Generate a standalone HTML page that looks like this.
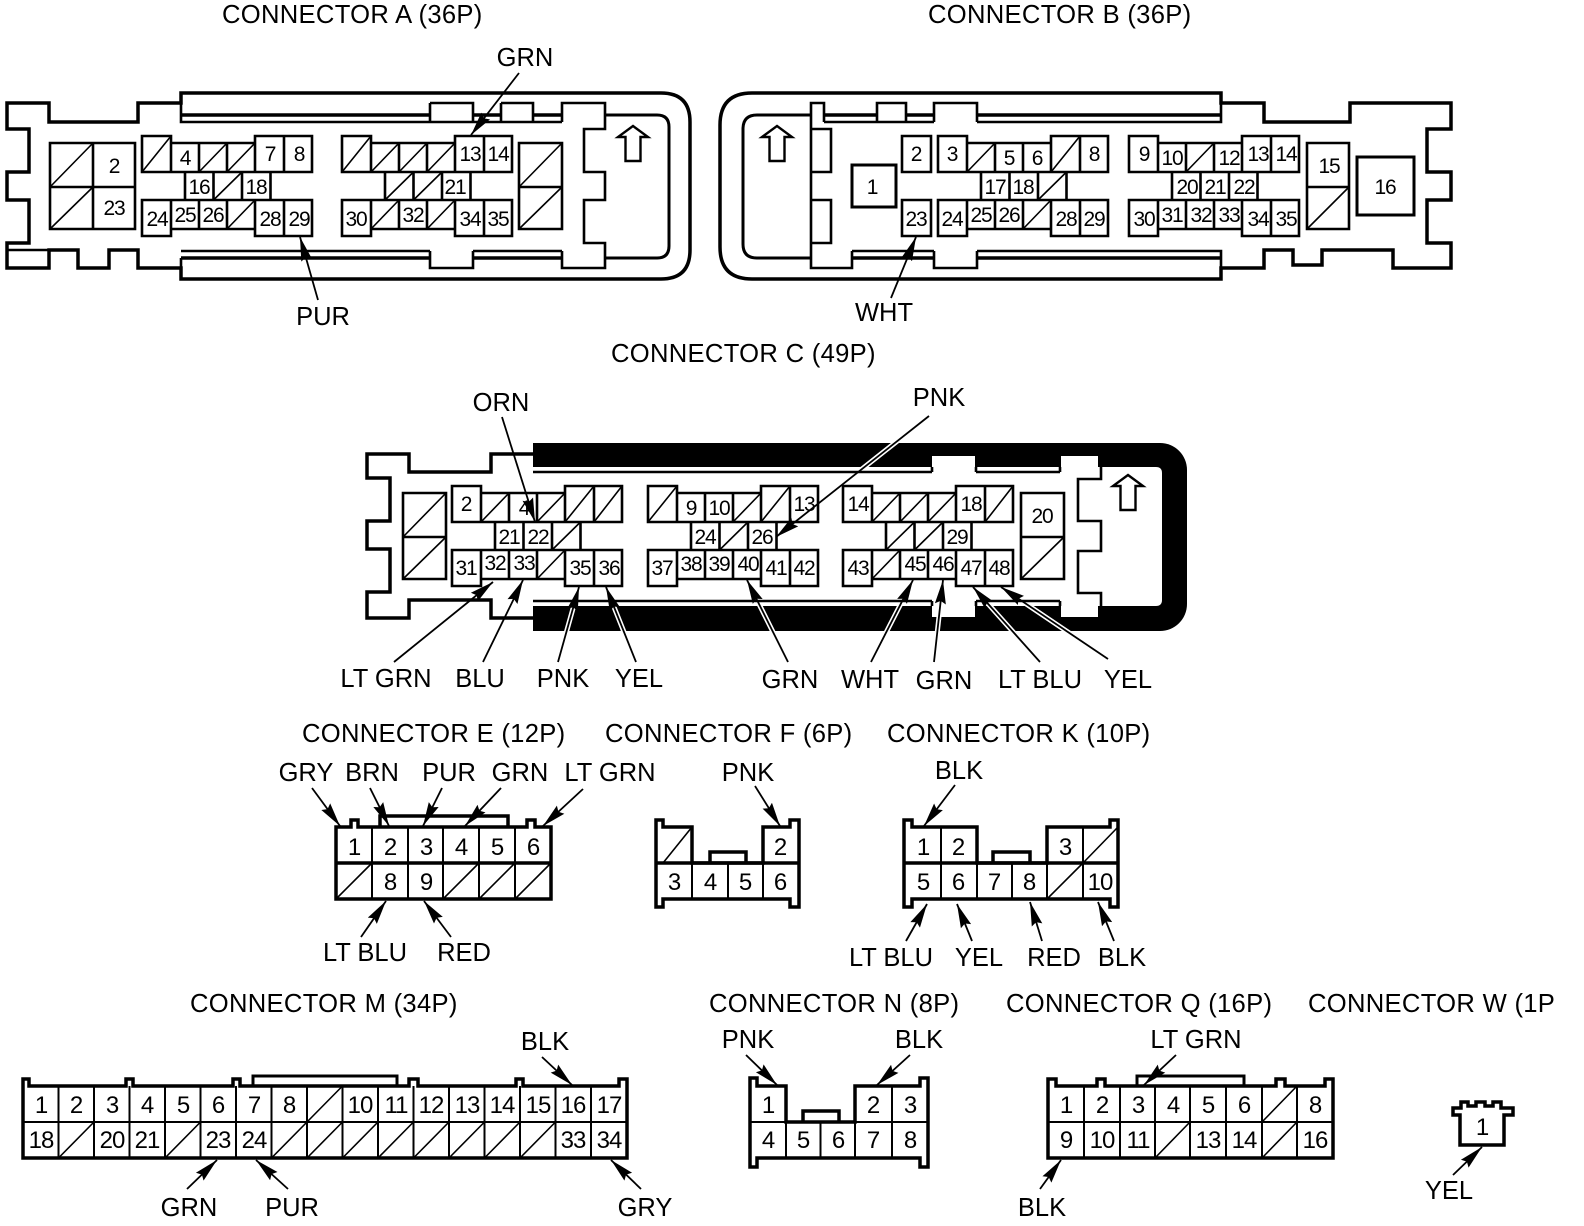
<!DOCTYPE html>
<html><head><meta charset="utf-8"><style>
html,body{margin:0;padding:0;background:#fff}
svg{display:block}
text{font-family:"Liberation Sans",sans-serif;fill:#000}
.l{font-size:25.5px;text-anchor:middle}
.h{font-size:25.6px;letter-spacing:.3px}
.n{font-size:21px;text-anchor:middle;letter-spacing:-1.2px}
.m{font-size:24px;text-anchor:middle;letter-spacing:-1px}
.o{fill:none;stroke:#000;stroke-width:3.5}
.c{fill:none;stroke:#000;stroke-width:2}
.t{fill:none;stroke:#000;stroke-width:1.6}
.a{fill:none;stroke:#000;stroke-width:1.8;marker-end:url(#ah)}
.w{fill:none;stroke:#fff;stroke-width:5}
.g{fill:none;stroke:#000;stroke-width:2.6}
</style></head><body>
<svg width="1584" height="1226" viewBox="0 0 1584 1226" xmlns="http://www.w3.org/2000/svg">
<defs>
<marker id="ah" markerUnits="userSpaceOnUse" markerWidth="26" markerHeight="14" refX="24" refY="7" orient="auto"><path d="M0 1.500L24 7L0 12.500L3 7Z" fill="#000"/></marker>
<g id="gr"><path class="g" d="M0 0H29V7H113V0H170V36H0ZM29 7V36M57 7V36M85 7V36M113 7V36M142 0V36M43 36V64H128.500V36M71.500 36V64M100 36V64M0 64H170V100H113V93H29V100H0ZM29 64V93M57 64V93M85 64V93M113 64V93M142 64V100"/></g>
<g id="ua"><path d="M0 0L15 11H7.500V35H-7.500V11H-15Z" fill="#fff" stroke="#000" stroke-width="2.400"/></g>
</defs>
<rect width="1584" height="1226" fill="#fff"/>

<!-- CONNECTOR A -->
<path class="o" d="M7 103H49V122H138V103H181V93H661Q690 93 690 122V250Q690 279 661 279H181V268H138V250H109V268H78V250H49V268H7V243H29V200H7V172H29V129H7Z"/>
<path class="g" d="M7 250H49M181 93V122H562M181 251H430M473 251H562M181 258V279"/>
<path class="o" d="M181 115H430M473 115H501M533 115H562M181 258H430M473 258H562"/>
<path class="g" d="M430 103H473V122M430 103V122M501 103H533V122M501 103V122M430 251V268H473V251"/>
<path class="g" d="M562 122V103H605V129H584V172H605V200H584V243H605V268H562V251"/>
<path class="o" d="M605 115H657Q669 115 669 127V246Q669 258 657 258H605" style="stroke-width:3"/>
<use href="#ua" x="633" y="126"/>
<path class="g" d="M50 143H135V229H50ZM93 143V229M50 187H135M519 143H562V229H519ZM519 187H562"/>
<path class="t" d="M50 187L93 143M50 229L93 187M519 187L562 143M519 229L562 187"/>
<use href="#gr" x="142" y="136"/>
<g transform="translate(142,136)"><path class="t" d="M0 36L29 0M57 36L85 7M85 36L113 7M71.500 64L100 36M85 93L113 64"/></g>
<use href="#gr" x="342" y="136"/>
<g transform="translate(342,136)"><path class="t" d="M0 36L29 0M29 36L57 7M57 36L85 7M85 36L113 7M43 64L71.500 36M71.500 64L100 36M29 93L57 64M85 93L113 64"/></g>
<text class="n" x="114" y="173">2</text><text class="n" x="114" y="215">23</text>
<text class="n" x="185" y="165">4</text><text class="n" x="270" y="161">7</text><text class="n" x="299" y="161">8</text>
<text class="n" x="199" y="194">16</text><text class="n" x="256" y="194">18</text>
<text class="n" x="157" y="226">24</text><text class="n" x="185" y="222">25</text><text class="n" x="213" y="222">26</text><text class="n" x="270" y="226">28</text><text class="n" x="299" y="226">29</text>
<text class="n" x="470" y="161">13</text><text class="n" x="498" y="161">14</text><text class="n" x="455" y="194">21</text>
<text class="n" x="356" y="226">30</text><text class="n" x="413" y="222">32</text><text class="n" x="470" y="226">34</text><text class="n" x="498" y="226">35</text>
<text class="h" x="222" y="23">CONNECTOR A (36P)</text>
<text class="l" x="525" y="66">GRN</text>
<text class="l" x="323" y="325">PUR</text>
<path class="a" d="M519 73L471 135"/>
<path class="a" d="M318 300L300 237"/>

<!-- CONNECTOR B -->
<path class="o" d="M1221 103V93H752Q720 93 720 125V247Q720 279 752 279H1221V268H1264V250H1293V265H1322V250H1393V268H1451V243H1427V200H1451V172H1427V129H1451V103H1350V122H1264V103Z"/>
<path class="g" d="M824 122H934M977 122H1221V93M852 251H934M977 251H1221V279"/>
<path class="o" d="M824 115H877M906 115H934M977 115H1221M852 258H934M977 258H1221"/>
<path class="o" d="M811 115H757Q743 115 743 129V244Q743 258 757 258H811" style="stroke-width:3"/>
<path class="g" d="M824 122V103H811V268H852V251M811 129H831V172H811M811 200H831V243H811M877 122V103H906V122M934 122V103H977V122M934 251V268H977V251"/>
<use href="#ua" x="777" y="126"/>
<path class="o" d="M852 165H896V207H852Z" style="stroke-width:3"/>
<path class="g" d="M902 136H931V172H902ZM902 200H931V236H902ZM1307 143H1349V229H1307ZM1307 187H1349"/>
<path class="o" d="M1357 157H1414V215H1357Z" style="stroke-width:3"/>
<path class="t" d="M1307 229L1349 187"/>
<use href="#gr" x="938" y="136"/>
<g transform="translate(938,136)"><path class="t" d="M29 36L57 7M113 36L142 0M100 64L128.500 36M85 93L113 64"/></g>
<use href="#gr" x="1129" y="136"/>
<g transform="translate(1129,136)"><path class="t" d="M57 36L85 7"/></g>
<text class="n" x="872" y="194">1</text><text class="n" x="916" y="161">2</text><text class="n" x="916" y="226">23</text>
<text class="n" x="952" y="161">3</text><text class="n" x="1009" y="165">5</text><text class="n" x="1037" y="165">6</text><text class="n" x="1094" y="161">8</text>
<text class="n" x="995" y="194">17</text><text class="n" x="1023" y="194">18</text>
<text class="n" x="952" y="226">24</text><text class="n" x="981" y="222">25</text><text class="n" x="1009" y="222">26</text><text class="n" x="1066" y="226">28</text><text class="n" x="1094" y="226">29</text>
<text class="n" x="1144" y="161">9</text><text class="n" x="1172" y="165">10</text><text class="n" x="1229" y="165">12</text><text class="n" x="1258" y="161">13</text><text class="n" x="1286" y="161">14</text>
<text class="n" x="1187" y="194">20</text><text class="n" x="1215" y="194">21</text><text class="n" x="1244" y="194">22</text>
<text class="n" x="1144" y="226">30</text><text class="n" x="1172" y="222">31</text><text class="n" x="1201" y="222">32</text><text class="n" x="1229" y="222">33</text><text class="n" x="1258" y="226">34</text><text class="n" x="1286" y="226">35</text>
<text class="n" x="1329" y="173">15</text><text class="n" x="1385" y="194">16</text>
<text class="h" x="928" y="23">CONNECTOR B (36P)</text>
<text class="l" x="884" y="321">WHT</text>
<path class="a" d="M891 298L916 237"/>

<!-- CONNECTOR C -->
<text class="h" x="611" y="362">CONNECTOR C (49P)</text>
<path d="M533 443H1160A27 27 0 0 1 1187 470V604A27 27 0 0 1 1160 631H533Z" fill="#000"/>
<path d="M533 467H932V456H975V467H1061V456H1098V467H1101H1156Q1162 467 1162 473V600Q1162 606 1156 606H1098V617H1061V606H975V617H932V606H533Z" fill="#fff"/>
<path class="w" d="M558 662L579 587M636 662L606 587M788 662L747 580M871 662L913 580M934 662L943 580M1040 662L973 587M1108 659L1001 587M929 416L776 537"/>
<path class="o" d="M533 454H491V472H409V454H367V478H390V521H367V549H390V592H367V618H409V600H491V618H533"/>
<path class="g" d="M533 472H932M976 472H1060M533 601H932M976 601H1060M932 467V472M976 467V472M1060 467V472M932 601V606M976 601V606M1060 601V606"/>
<path class="g" d="M1101 467V479H1078V521H1101V551H1078V593H1101V606"/>
<use href="#ua" x="1128" y="475"/>
<path class="g" d="M403 493H446V579H403ZM403 537H446M1021 493H1064V579H1021ZM1021 537H1064"/>
<path class="t" d="M403 537L446 493M403 579L446 537M1021 579L1064 537"/>
<use href="#gr" x="452" y="486"/>
<g transform="translate(452,486)"><path class="t" d="M29 36L57 7M85 36L113 7M113 36L142 0M142 36L170 0M100 64L128.500 36M85 93L113 64"/></g>
<use href="#gr" x="648" y="486"/>
<g transform="translate(648,486)"><path class="t" d="M0 36L29 0M85 36L113 7M113 36L142 0M71.500 64L100 36"/></g>
<use href="#gr" x="843" y="486"/>
<g transform="translate(843,486)"><path class="t" d="M29 36L57 7M57 36L85 7M85 36L113 7M142 36L170 0M43 64L71.500 36M71.500 64L100 36M29 93L57 64"/></g>
<text class="n" x="466" y="511">2</text><text class="n" x="524" y="515">4</text>
<text class="n" x="509" y="544">21</text><text class="n" x="538" y="544">22</text>
<text class="n" x="466" y="575">31</text><text class="n" x="495" y="570">32</text><text class="n" x="524" y="570">33</text><text class="n" x="580" y="575">35</text><text class="n" x="609" y="575">36</text>
<text class="n" x="691" y="515">9</text><text class="n" x="719" y="515">10</text><text class="n" x="804" y="511">13</text>
<text class="n" x="705" y="544">24</text><text class="n" x="762" y="544">26</text>
<text class="n" x="662" y="575">37</text><text class="n" x="691" y="571">38</text><text class="n" x="719" y="571">39</text><text class="n" x="748" y="571">40</text><text class="n" x="776" y="575">41</text><text class="n" x="804" y="575">42</text>
<text class="n" x="858" y="511">14</text><text class="n" x="971" y="511">18</text><text class="n" x="957" y="544">29</text>
<text class="n" x="858" y="575">43</text><text class="n" x="915" y="571">45</text><text class="n" x="943" y="571">46</text><text class="n" x="971" y="575">47</text><text class="n" x="999" y="575">48</text>
<text class="n" x="1042" y="523">20</text>
<text class="l" x="501" y="411">ORN</text><text class="l" x="939" y="406">PNK</text>
<text class="l" x="386" y="687">LT GRN</text><text class="l" x="480" y="687">BLU</text><text class="l" x="563" y="687">PNK</text><text class="l" x="639" y="687">YEL</text>
<text class="l" x="790" y="688">GRN</text><text class="l" x="870" y="688">WHT</text><text class="l" x="944" y="689">GRN</text><text class="l" x="1040" y="688">LT BLU</text><text class="l" x="1128" y="688">YEL</text>
<path class="a" d="M502 417L535 522"/>
<path class="a" d="M929 416L776 537"/>
<path class="a" d="M394 662L493 582"/>
<path class="a" d="M483 662L523 580"/>
<path class="a" d="M558 662L579 587"/>
<path class="a" d="M636 662L606 587"/>
<path class="a" d="M788 662L747 580"/>
<path class="a" d="M871 662L913 580"/>
<path class="a" d="M934 662L943 580"/>
<path class="a" d="M1040 662L973 587"/>
<path class="a" d="M1108 659L1001 587"/>

<!-- CONNECTOR E -->
<text class="h" x="302" y="742">CONNECTOR E (12P)</text>
<path class="o" d="M336 827H351V820H358V827H527V820H535V827H551V899H336Z"/>
<path class="o" d="M380 827V816H508V827M336 863H551"/>
<path class="c" d="M372 827V899M408 827V899M443 827V899M479 827V899M515 827V899"/>
<path class="t" d="M336 899L372 863M443 899L479 863M479 899L515 863M515 899L551 863"/>
<text class="m" x="354" y="855">1</text><text class="m" x="390" y="855">2</text><text class="m" x="426" y="855">3</text><text class="m" x="461" y="855">4</text><text class="m" x="497" y="855">5</text><text class="m" x="533" y="855">6</text>
<text class="m" x="390" y="890">8</text><text class="m" x="426" y="890">9</text>
<text class="l" x="306" y="781">GRY</text><text class="l" x="372" y="781">BRN</text><text class="l" x="449" y="781">PUR</text><text class="l" x="520" y="781">GRN</text><text class="l" x="610" y="781">LT GRN</text>
<text class="l" x="365" y="961">LT BLU</text><text class="l" x="464" y="961">RED</text>
<path class="a" d="M312 788L340 826"/><path class="a" d="M370 788L389 826"/><path class="a" d="M442 788L423 826"/><path class="a" d="M501 788L465 826"/><path class="a" d="M583 789L543 826"/>
<path class="a" d="M361 937L386 901"/><path class="a" d="M451 937L424 901"/>

<!-- CONNECTOR F -->
<text class="h" x="605" y="742">CONNECTOR F (6P)</text>
<path class="o" d="M656 820H663V827H692V863H763V827H790V820H799V907H790V899H663V907H656Z"/>
<path class="o" d="M710 863V852H746V863M656 863H799"/>
<path class="c" d="M692 863V899M728 863V899M763 863V899"/>
<path class="t" d="M663 863L692 827"/>
<text class="m" x="780" y="855">2</text><text class="m" x="674" y="890">3</text><text class="m" x="710" y="890">4</text><text class="m" x="745" y="890">5</text><text class="m" x="780" y="890">6</text>
<text class="l" x="748" y="781">PNK</text>
<path class="a" d="M755 786L780 826"/>

<!-- CONNECTOR K -->
<text class="h" x="887" y="742">CONNECTOR K (10P)</text>
<path class="o" d="M904 820H912V827H977V863H1047V827H1110V820H1118V907H1110V899H912V907H904Z"/>
<path class="o" d="M993 863V852H1030V863M904 863H1118"/>
<path class="c" d="M941 827V899M977 863V899M1012 863V899M1047 863V899M1083 827V899"/>
<path class="t" d="M1083 863L1118 827M1047 899L1083 863"/>
<text class="m" x="923" y="855">1</text><text class="m" x="958" y="855">2</text><text class="m" x="1065" y="855">3</text>
<text class="m" x="923" y="890">5</text><text class="m" x="958" y="890">6</text><text class="m" x="994" y="890">7</text><text class="m" x="1029" y="890">8</text><text class="m" x="1100" y="890">10</text>
<text class="l" x="959" y="779">BLK</text>
<text class="l" x="891" y="966">LT BLU</text><text class="l" x="979" y="966">YEL</text><text class="l" x="1054" y="966">RED</text><text class="l" x="1122" y="966">BLK</text>
<path class="a" d="M955 785L924 826"/>
<path class="a" d="M906 941L927 904"/><path class="a" d="M972 941L957 904"/><path class="a" d="M1042 941L1030 902"/><path class="a" d="M1114 941L1098 902"/>

<!-- CONNECTOR M -->
<text class="h" x="190" y="1012">CONNECTOR M (34P)</text>
<path class="o" d="M23 1079H29V1086H126V1079H133V1086H233V1079H240V1086H409V1079H418V1086H516V1079H523V1086H619V1079H627V1158H23Z"/>
<path class="o" d="M253 1086V1076H397V1086" style="stroke-width:3"/>
<path class="c" d="M23 1122H627M58.500 1086V1158M94 1086V1158M129.500 1086V1158M165 1086V1158M200.500 1086V1158M236 1086V1158M271.500 1086V1158M307 1086V1158M342.500 1086V1158M378 1086V1158M413.500 1086V1158M449 1086V1158M484.500 1086V1158M520 1086V1158M555.500 1086V1158M591 1086V1158"/>
<path class="t" d="M307 1122L342.500 1086M58.500 1158l35.500-36M165 1158l35.500-36M271.500 1158l35.500-36M307 1158l35.500-36M342.500 1158l35.500-36M378 1158l35.500-36M413.500 1158l35.500-36M449 1158l35.500-36M484.500 1158l35.500-36M520 1158l35.500-36"/>
<text class="m" x="41" y="1113">1</text><text class="m" x="76" y="1113">2</text><text class="m" x="112" y="1113">3</text><text class="m" x="147" y="1113">4</text><text class="m" x="183" y="1113">5</text><text class="m" x="218" y="1113">6</text><text class="m" x="254" y="1113">7</text><text class="m" x="289" y="1113">8</text><text class="m" x="360" y="1113">10</text><text class="m" x="396" y="1113">11</text><text class="m" x="431" y="1113">12</text><text class="m" x="467" y="1113">13</text><text class="m" x="502" y="1113">14</text><text class="m" x="538" y="1113">15</text><text class="m" x="573" y="1113">16</text><text class="m" x="609" y="1113">17</text>
<text class="m" x="41" y="1148">18</text><text class="m" x="112" y="1148">20</text><text class="m" x="147" y="1148">21</text><text class="m" x="218" y="1148">23</text><text class="m" x="254" y="1148">24</text><text class="m" x="573" y="1148">33</text><text class="m" x="609" y="1148">34</text>
<text class="l" x="545" y="1050">BLK</text><text class="l" x="189" y="1216">GRN</text><text class="l" x="292" y="1216">PUR</text><text class="l" x="645" y="1216">GRY</text>
<path class="a" d="M542 1057L572 1085"/><path class="a" d="M187 1189L217 1160"/><path class="a" d="M288 1189L256 1160"/><path class="a" d="M641 1189L611 1160"/>

<!-- CONNECTOR N -->
<text class="h" x="709" y="1012">CONNECTOR N (8P)</text>
<path class="o" d="M750 1078H757V1086H786V1122H855V1086H920V1078H928V1167H920V1158H757V1167H750Z"/>
<path class="o" d="M803 1122V1111H839V1122"/>
<path class="c" d="M750 1122H928M786 1122V1158M820.500 1122V1158M855 1122V1158M892 1086V1158"/>
<text class="m" x="768" y="1113">1</text><text class="m" x="873" y="1113">2</text><text class="m" x="910" y="1113">3</text>
<text class="m" x="768" y="1148">4</text><text class="m" x="803" y="1148">5</text><text class="m" x="838" y="1148">6</text><text class="m" x="873" y="1148">7</text><text class="m" x="910" y="1148">8</text>
<text class="l" x="748" y="1048">PNK</text><text class="l" x="919" y="1048">BLK</text>
<path class="a" d="M746 1055L777 1085"/><path class="a" d="M910 1055L877 1085"/>

<!-- CONNECTOR Q -->
<text class="h" x="1006" y="1012">CONNECTOR Q (16P)</text>
<path class="o" d="M1048 1079H1056V1086H1097V1079H1105V1086H1276V1079H1285V1086H1325V1079H1333V1158H1048Z"/>
<path class="o" d="M1137 1086V1076H1244V1086" style="stroke-width:3"/>
<path class="c" d="M1048 1122H1333M1084 1086V1158M1120 1086V1158M1155 1086V1158M1190 1086V1158M1226 1086V1158M1262 1086V1158M1297 1086V1158"/>
<path class="t" d="M1262 1122L1297 1086M1155 1158L1190 1122M1262 1158L1297 1122"/>
<text class="m" x="1066" y="1113">1</text><text class="m" x="1102" y="1113">2</text><text class="m" x="1138" y="1113">3</text><text class="m" x="1173" y="1113">4</text><text class="m" x="1208" y="1113">5</text><text class="m" x="1244" y="1113">6</text><text class="m" x="1315" y="1113">8</text>
<text class="m" x="1066" y="1148">9</text><text class="m" x="1102" y="1148">10</text><text class="m" x="1138" y="1148">11</text><text class="m" x="1208" y="1148">13</text><text class="m" x="1244" y="1148">14</text><text class="m" x="1315" y="1148">16</text>
<text class="l" x="1196" y="1048">LT GRN</text><text class="l" x="1042" y="1216">BLK</text>
<path class="a" d="M1176 1055L1144 1085"/><path class="a" d="M1040 1189L1061 1160"/>

<!-- CONNECTOR W -->
<text class="h" x="1308" y="1012">CONNECTOR W (1P)</text>
<rect x="1555" y="985" width="29" height="40" fill="#fff"/>
<path class="o" d="M1460 1145V1115H1453V1108H1461V1102H1468V1106H1476V1102H1485V1106H1493V1102H1501V1108H1513V1115H1504V1145Z"/>
<text class="m" x="1482" y="1135">1</text>
<text class="l" x="1449" y="1199">YEL</text>
<path class="a" d="M1453 1175L1482 1147"/>
</svg>
</body></html>
